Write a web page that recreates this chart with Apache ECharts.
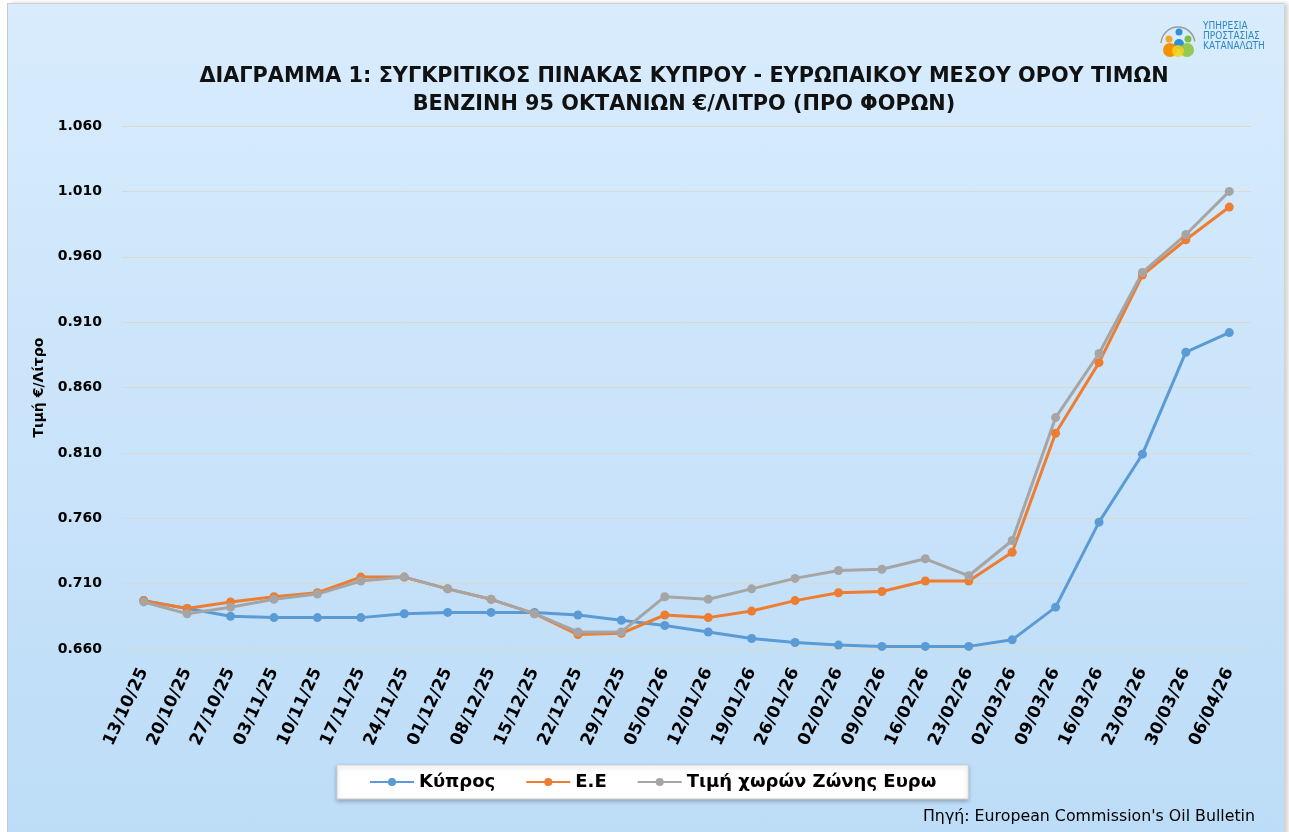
<!DOCTYPE html>
<html>
<head>
<meta charset="utf-8">
<script src="https://cdn.jsdelivr.net/npm/echarts@6/dist/echarts.min.js"></script>
<style>
  html, body { margin: 0; padding: 0; background: #fff; }
  #frame {
    position: absolute; left: 7px; top: 3px; width: 1276px; height: 840px;
    border-left: 1px solid #c8c8c8; border-top: 1px solid #d0d0d0;
    background: linear-gradient(180deg, #d8ecfd 0%, #c9e3fa 55%, #bcdcf7 100%);
    box-shadow: 4px 0 4px rgba(0,0,0,0.18);
  }
  #chart { position: absolute; left: 0; top: 0; width: 1289px; height: 832px; }
</style>
</head>
<body>
<div id="frame"></div>
<div id="chart"></div>
<script>
const dates = ['13/10/25', '20/10/25', '27/10/25', '03/11/25', '10/11/25', '17/11/25', '24/11/25', '01/12/25', '08/12/25', '15/12/25', '22/12/25', '29/12/25', '05/01/26', '12/01/26', '19/01/26', '26/01/26', '02/02/26', '09/02/26', '16/02/26', '23/02/26', '02/03/26', '09/03/26', '16/03/26', '23/03/26', '30/03/26', '06/04/26']
const cyprus = [0.697, 0.691, 0.685, 0.684, 0.684, 0.684, 0.687, 0.688, 0.688, 0.688, 0.686, 0.682, 0.678, 0.673, 0.668, 0.665, 0.663, 0.662, 0.662, 0.662, 0.667, 0.692, 0.757, 0.809, 0.887, 0.902]
const eu = [0.697, 0.691, 0.696, 0.700, 0.703, 0.715, 0.715, 0.706, 0.698, 0.687, 0.671, 0.672, 0.686, 0.684, 0.689, 0.697, 0.703, 0.704, 0.712, 0.712, 0.734, 0.825, 0.879, 0.946, 0.973, 0.998]
const euroZone = [0.696, 0.687, 0.692, 0.698, 0.702, 0.712, 0.715, 0.706, 0.698, 0.687, 0.673, 0.673, 0.700, 0.698, 0.706, 0.714, 0.720, 0.721, 0.729, 0.716, 0.743, 0.837, 0.886, 0.948, 0.977, 1.010]
const seriesNames = ['Κύπρος', 'Ε.Ε', 'Τιμή χωρών Ζώνης Ευρω']
const colors = ['#5b9bd5', '#ed7d31', '#a5a5a5']

const font = '"DejaVu Sans", "Noto Sans", sans-serif'
const chart = echarts.init(document.getElementById('chart'))

function line(name, data) {
  return {
    name,
    type: 'line',
    data,
    symbol: 'circle',
    symbolSize: 9,
    lineStyle: { width: 3 },
    emphasis: { disabled: true }
  }
}

chart.setOption({
  backgroundColor: 'transparent',
  color: colors,
  animation: false,
  textStyle: { fontFamily: font },
  title: {
    text: 'ΔΙΑΓΡΑΜΜΑ 1: ΣΥΓΚΡΙΤΙΚΟΣ ΠΙΝΑΚΑΣ ΚΥΠΡΟΥ - ΕΥΡΩΠΑΙΚΟΥ ΜΕΣΟΥ ΟΡΟΥ ΤΙΜΩΝ\nΒΕΝΖΙΝΗ 95 ΟΚΤΑΝΙΩΝ €/ΛΙΤΡΟ (ΠΡΟ ΦΟΡΩΝ)',
    left: 679,
    top: 58,
    textAlign: 'center',
    textStyle: { fontFamily: font, fontSize: 20.8, fontWeight: 'bold', color: '#111', lineHeight: 28 }
  },
  legend: {
    data: seriesNames,
    left: 337,
    top: 765,
    padding: [8, 32, 8, 32],
    itemGap: 30,
    itemWidth: 44,
    itemHeight: 10,
    backgroundColor: '#ffffff',
    borderColor: '#d0d0d0',
    borderWidth: 1,
    shadowColor: 'rgba(0,0,0,0.25)',
    shadowBlur: 4,
    shadowOffsetY: 2,
    textStyle: { fontFamily: font, fontSize: 18, fontWeight: 'bold', color: '#000' }
  },
  grid: { left: 122, right: 38, top: 126, bottom: 183, outerBoundsMode: 'none' },
  xAxis: {
    type: 'category',
    data: dates,
    boundaryGap: true,
    axisLine: { show: false },
    axisTick: { show: false },
    axisLabel: { interval: 0, rotate: 65, margin: 20, fontFamily: font, fontSize: 17, fontWeight: 'bold', color: '#000' }
  },
  yAxis: {
    type: 'value',
    min: 0.66,
    max: 1.06,
    interval: 0.05,
    name: 'Τιμή €/Λίτρο',
    nameLocation: 'middle',
    nameRotate: 90,
    nameGap: 76,
    nameTextStyle: { fontFamily: font, fontSize: 14, fontWeight: 'bold', color: '#000' },
    axisLine: { show: false },
    axisTick: { show: false },
    axisLabel: { margin: 20, fontFamily: font, fontSize: 14, fontWeight: 'bold', color: '#000', formatter: (v) => v.toFixed(3) },
    splitLine: { lineStyle: { color: '#dbd8cf', width: 1 } }
  },
  graphic: [
    { type: 'arc', shape: { cx: 1178, cy: 44, r: 17, startAngle: Math.PI * 1.02, endAngle: Math.PI * 1.95 }, style: { stroke: '#9a9a9a', lineWidth: 1.5, fill: null } },
    { type: 'circle', shape: { cx: 1179, cy: 32, r: 3.5 }, style: { fill: '#2f8fd8' } },
    { type: 'circle', shape: { cx: 1169, cy: 39, r: 3.5 }, style: { fill: '#f5a623' } },
    { type: 'circle', shape: { cx: 1188, cy: 39, r: 3.5 }, style: { fill: '#7cc242' } },
    { type: 'circle', shape: { cx: 1179, cy: 44, r: 5 }, style: { fill: '#2f8fd8' } },
    { type: 'circle', shape: { cx: 1170, cy: 50, r: 7 }, style: { fill: '#f39200' } },
    { type: 'circle', shape: { cx: 1187, cy: 50, r: 7 }, style: { fill: '#8dc63f', opacity: 0.9 } },
    { type: 'circle', shape: { cx: 1178, cy: 51, r: 6 }, style: { fill: '#f7d117', opacity: 0.85 } },
    { type: 'text', left: 1203, top: 21, style: { text: 'ΥΠΗΡΕΣΙΑ\nΠΡΟΣΤΑΣΙΑΣ\nΚΑΤΑΝΑΛΩΤΗ', fill: '#2e86c8', font: '10px "Liberation Sans Narrow", "DejaVu Sans Condensed", sans-serif', lineHeight: 10 } },
    { type: 'text', right: 34, top: 809, style: { text: "Πηγή: European Commission's Oil Bulletin", fill: '#000', font: '15.8px ' + font } }
  ],
  series: [
    line(seriesNames[0], cyprus),
    line(seriesNames[1], eu),
    line(seriesNames[2], euroZone)
  ]
})
</script>
</body>
</html>
